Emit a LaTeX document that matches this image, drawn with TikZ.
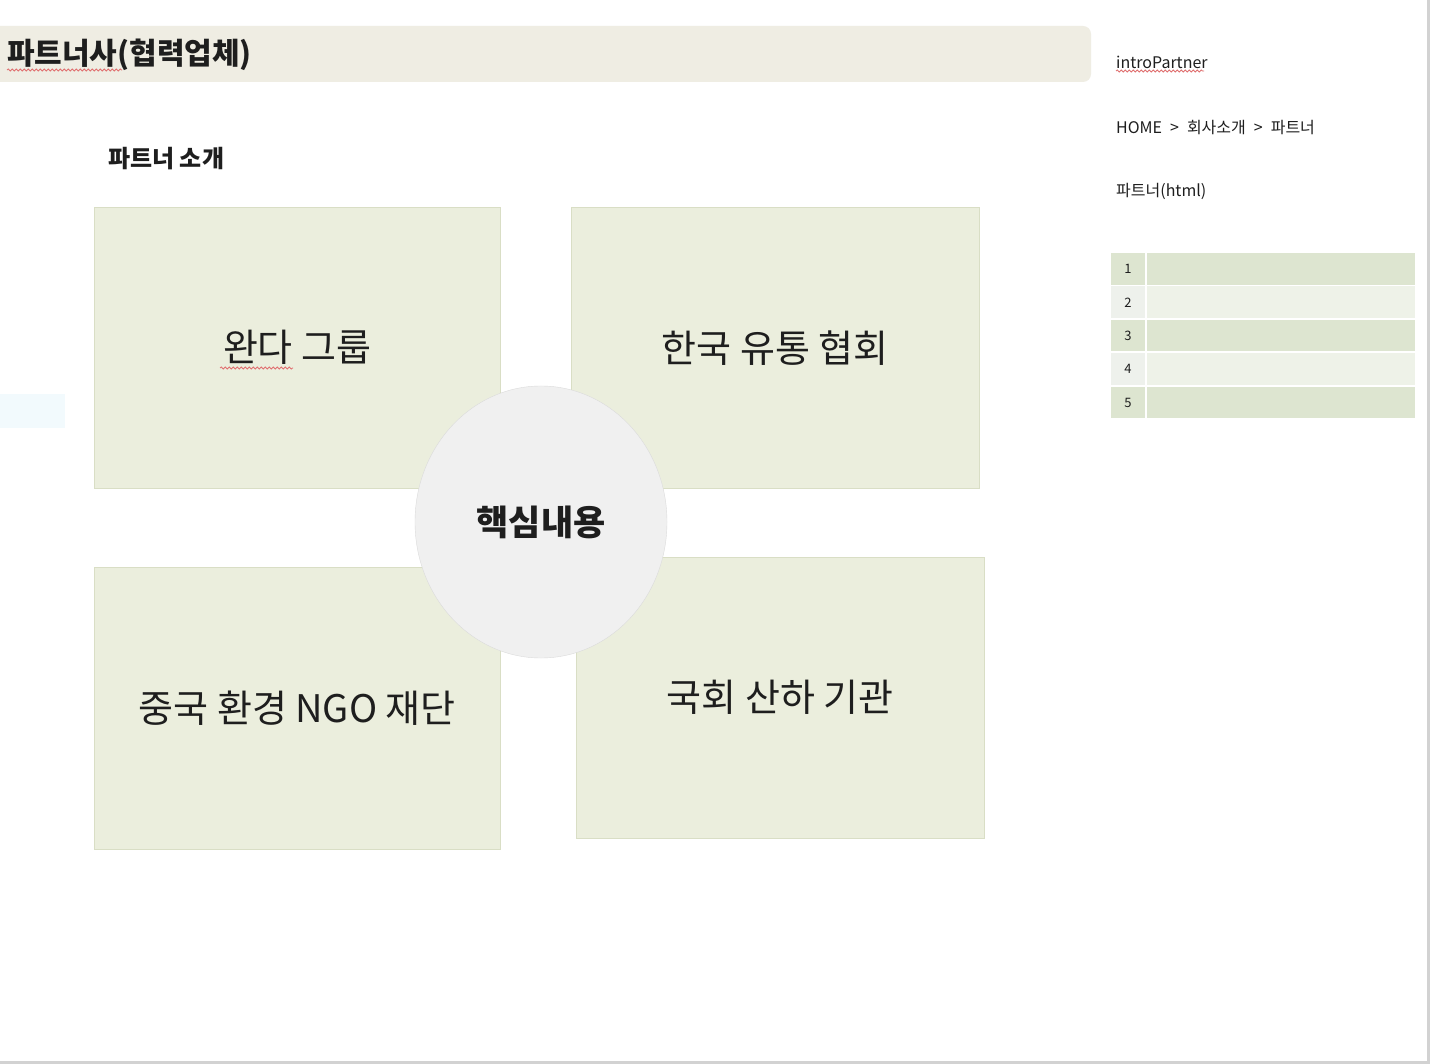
\documentclass[tikz,border=0pt]{standalone}
\usepackage{fontspec}
\setmainfont{Noto Sans CJK KR}
\usepackage{tikz}
\usepackage{xcolor}
\usetikzlibrary{shapes.geometric,decorations.pathmorphing}

\definecolor{titlebg}{HTML}{EFEDE3}
\definecolor{boxbg}{HTML}{EBEEDD}
\definecolor{boxline}{HTML}{D9DEC5}
\definecolor{circbg}{HTML}{F0F0F0}
\definecolor{circline}{HTML}{DBDBDB}
\definecolor{rowdark}{HTML}{DDE5D0}
\definecolor{rowlight}{HTML}{EEF2E8}
\definecolor{numlight}{HTML}{EEF1EC}
\definecolor{hintblue}{HTML}{F2FAFD}
\definecolor{edgegray}{HTML}{D2D2D2}
\definecolor{textcol}{HTML}{1E1E1E}
\definecolor{spellred}{HTML}{E07070}

\tikzset{
  partner/.style={draw=boxline, fill=boxbg, anchor=north west, inner sep=0pt,
    font=\fontsize{38}{44}\selectfont, text=textcol},
  sidetext/.style={anchor=west, inner sep=0pt, font=\fontsize{16}{19}\selectfont, text=textcol},
  spell/.style={draw=spellred, line width=0.8pt,
    decorate, decoration={snake, amplitude=1pt, segment length=4pt}}
}

\newcommand{\partnerbox}[6]{ % name, x, y, width, height, label
  \begin{scope}[shift={(#2, #3)}]
    \node[partner, minimum width=#4pt, minimum height=#5pt] (#1) at (0, 0) {#6};
  \end{scope}
}

\begin{document}
\begin{tikzpicture}[x=1pt, y=-1pt]
\useasboundingbox (0, 0) rectangle (1430, 1064);
\fill[white] (0, 0) rectangle (1430, 1064);

% page title bar
\fill[titlebg, rounded corners=8pt] (-20, 26) rectangle (1091, 82);
\node[anchor=west, inner sep=0pt, font=\bfseries\fontsize{30}{35}\selectfont, text=textcol] (ttl) at (7, 55) {파트너사(협력업체)};
\draw[spell] (7, 70) -- (122, 70);

\node[anchor=west, inner sep=0pt, font=\bfseries\fontsize{24}{28}\selectfont, text=textcol] (sub) at (108, 159) {파트너 소개};

\fill[hintblue] (0, 394) rectangle (65, 428);

% four partners
\partnerbox{wanda}{94}{207}{406}{281}{완다 그룹}
\partnerbox{kdist}{571}{207}{408}{281}{한국 유통 협회}
\partnerbox{ngo}{94}{567}{406}{282}{중국 환경 NGO 재단}
\partnerbox{assembly}{576}{557}{408}{281}{국회 산하 기관}
\draw[spell] (220, 368) -- (293, 368);

\node[ellipse, draw=circline, fill=circbg, minimum width=252pt, minimum height=272pt,
  font=\bfseries\fontsize{35}{40}\selectfont, text=textcol] (core) at (541, 522) {핵심내용};

% right side panel
\node[sidetext] (pageid) at (1116, 62) {introPartner};
\draw[spell] (1116, 71) -- (1204, 71);
\node[sidetext] (crumb) at (1116, 128) {HOME{\enspace}>{\enspace}회사소개{\enspace}>{\enspace}파트너};
\node[sidetext] (pagefile) at (1116, 191) {파트너(html)};

\foreach \i in {1,...,5}{
  \pgfmathsetmacro{\top}{253 + (\i-1)*33.4}
  \pgfmathsetmacro{\bot}{\top + 31.6}
  \ifodd\i
    \def\rowcol{rowdark}\def\numcol{rowdark}
  \else
    \def\rowcol{rowlight}\def\numcol{numlight}
  \fi
  \fill[\numcol] (1111, \top) rectangle (1145, \bot);
  \fill[\rowcol] (1147, \top) rectangle (1415, \bot);
  \node[inner sep=0pt, font=\fontsize{13}{15}\selectfont, text=textcol] (row\i) at (1128, \top+16) {\i};
}

\draw[edgegray, line width=3pt] (1428, -2) -- (1428, 1062) -- (-2, 1062);

\end{tikzpicture}
\end{document}
